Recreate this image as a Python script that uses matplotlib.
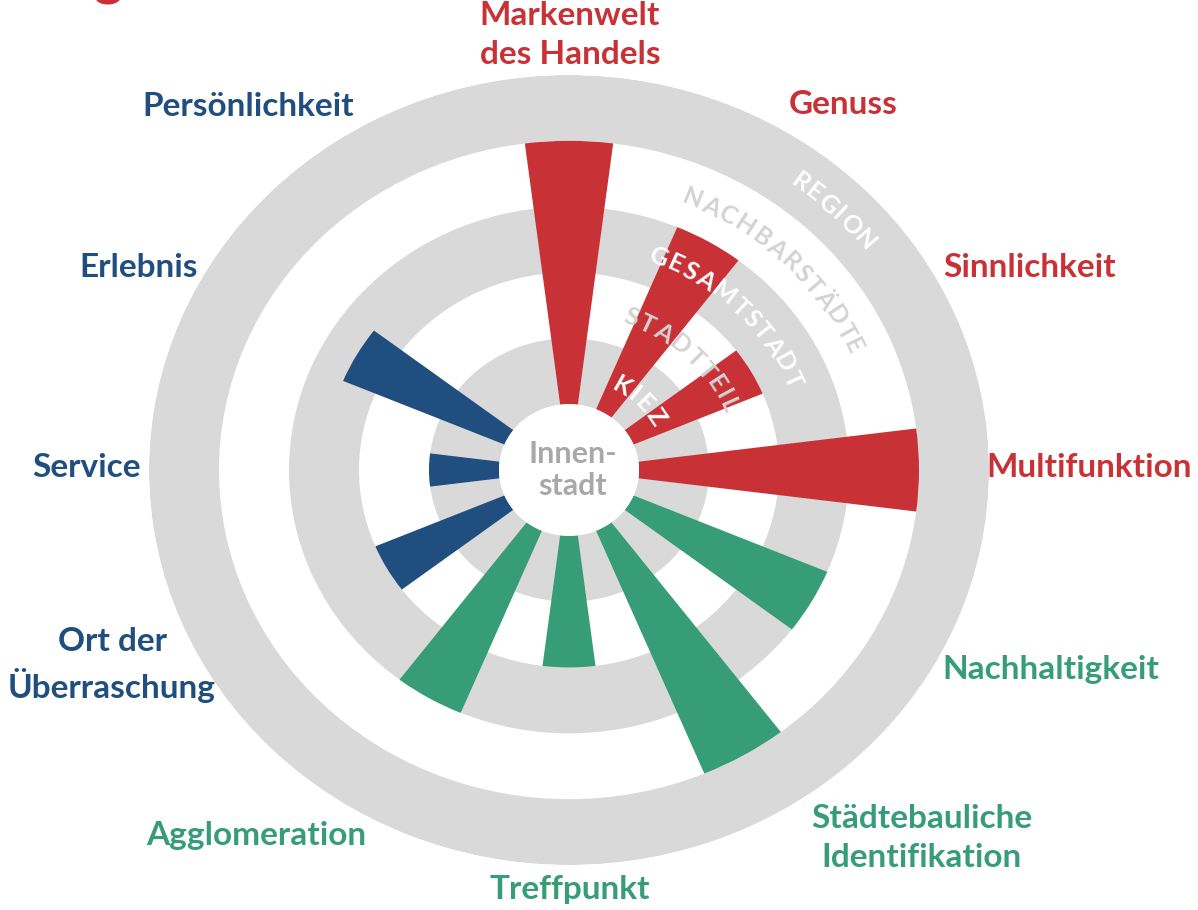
import numpy as np
import matplotlib
matplotlib.use("Agg")
import matplotlib.pyplot as plt
from matplotlib.font_manager import FontProperties
from matplotlib.textpath import TextToPath

# --- Daten ---
categories = ["Markenwelt\ndes Handels", "Genuss", "Sinnlichkeit", "Multifunktion",
              "Nachhaltigkeit", "Städtebauliche\nIdentifikation", "Treffpunkt",
              "Agglomeration", "Ort der\nÜberraschung", "Service", "Erlebnis",
              "Persönlichkeit"]
values = [5, 4, 3, 5, 4, 5, 3, 4, 3, 2, 3.5, 1]   # Außenradius der Balken (Ringeinheiten)
groups = ["rot", "rot", "rot", "rot", "gruen", "gruen", "gruen", "gruen",
          "blau", "blau", "blau", "blau"]
ring_names = ["KIEZ", "STADTTEIL", "GESAMTSTADT", "NACHBARSTÄDTE", "REGION"]
center_label = "Innen-\nstadt"

# --- Stil ---
RED = "#C83236"
GREEN = "#379C78"
BLUE = "#1F4E7F"
GRAY = "#D9D9D9"
colors = {"rot": RED, "gruen": GREEN, "blau": BLUE}
FONT = "Lato"

W, H, DPI = 1198, 910, 100
cx, cy = 569, 470          # Mittelpunkt in Pixel
rx, ry = 420, 395          # Halbachsen des äußersten Rings (leicht elliptisch)

# Positionen der Beschriftungen (Pixel)
label_pos = [(570, 35), (843, 105), (1030, 267), (1089, 468), (1051, 670),
             (922, 838), (570, 890), (256, 835), (112, 665), (86, 468),
             (139, 267), (248, 107)]

fig = plt.figure(figsize=(W / DPI, H / DPI), dpi=DPI)
ax = fig.add_axes([(cx - rx) / W, (H - cy - ry) / H, 2 * rx / W, 2 * ry / H],
                  projection="polar")
ax.set_aspect("auto")
ax.set_ylim(0, 6)
ax.set_axis_off()

# graue Ringe
ax.bar([0, 0, 0], [1, 1, 1], width=2 * np.pi, bottom=[1, 3, 5],
       color=GRAY, linewidth=0, zorder=1)

# Balken
theta = np.deg2rad(90 - 30 * np.arange(len(categories)))
heights = np.array(values) - 1
ax.bar(theta, heights, width=np.deg2rad(14.5), bottom=1,
       color=[colors[g] for g in groups], linewidth=0, zorder=2)

# weißer Innenkreis
ax.bar(0, 1, width=2 * np.pi, bottom=0, color="white", linewidth=0, zorder=3)
ax.text(0, 0.05, center_label, ha="center", va="center", fontsize=22,
        fontweight="bold", family=FONT, color="#A8A8A8", linespacing=1.15,
        zorder=4)


def curved_text(s, r, theta_c, color, fs=18, track=1.5):
    """Text entlang eines Rings, im Uhrzeigersinn"""
    fp = FontProperties(family=FONT, weight="bold", size=fs)
    ttp = TextToPath()
    widths = []
    for ch in s:
        w, h, d = ttp.get_text_width_height_descent(ch, fp, ismath=False)
        widths.append(w * DPI / 72 + track)
    total = sum(widths)
    a, b = rx / 6, ry / 6
    th = np.deg2rad(theta_c)
    scale = r * np.hypot(a * np.sin(th), b * np.cos(th))
    start = th + (total / 2) / scale
    pos = 0
    for ch, w in zip(s, widths):
        t = start - (pos + w / 2) / scale
        rot = np.degrees(np.arctan2(-b * np.cos(t), a * np.sin(t)))
        ax.text(t, r, ch, rotation=rot, rotation_mode="anchor", ha="center",
                va="baseline", fontproperties=fp, color=color, zorder=5)
        pos += w


ring_colors = ["white", "#D3D3D3", "white", "#D3D3D3", "white"]
cap = 0.72 * 18 * DPI / 72 / ((rx + ry) / 12)
for i, (name, c) in enumerate(zip(ring_names, ring_colors)):
    curved_text(name, 1.5 + i - cap / 2, 46, c)

# Kategorien-Beschriftungen
for lab, g, (px, py) in zip(categories, groups, label_pos):
    fig.text(px / W, 1 - py / H, lab, ha="center", va="center", fontsize=24,
             fontweight="bold", family=FONT, color=colors[g], linespacing=1.4)

# Rest des abgeschnittenen Titels oben links
fig.text(108 / W, 1 + 6 / H, "g", ha="center", va="baseline", fontsize=40,
         fontweight="bold", family=FONT, color=RED)

fig.savefig("out.png", dpi=DPI, facecolor="white")
